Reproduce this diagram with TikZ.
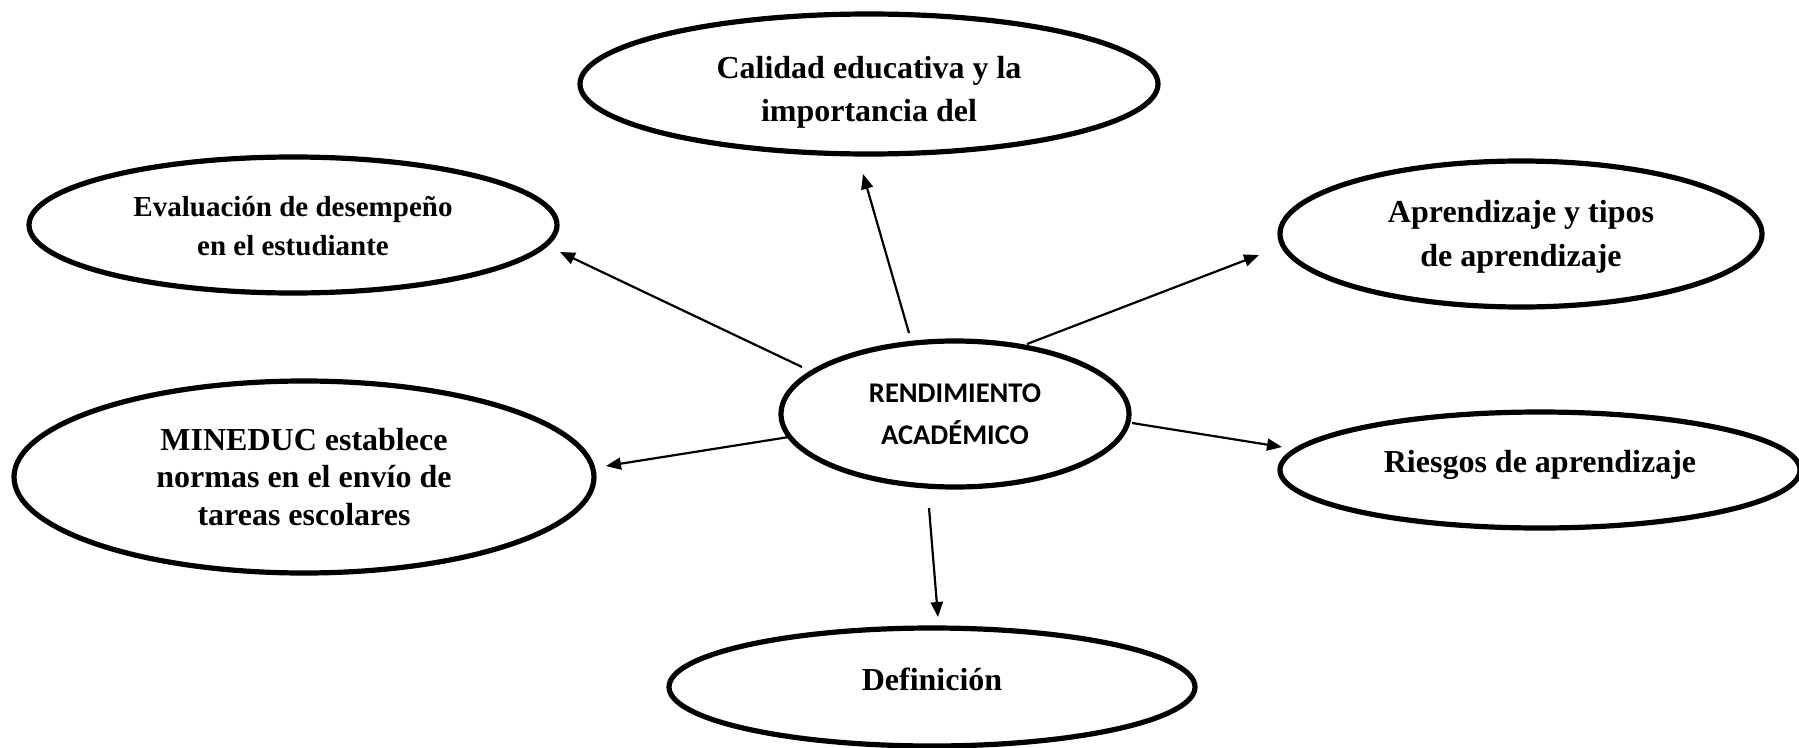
\documentclass[tikz,border=0pt]{standalone}
\usepackage{fontspec}
\setmainfont{Liberation Serif}
\newfontfamily\calib{Carlito}
\usetikzlibrary{shapes.geometric,arrows.meta}
\begin{document}
\begin{tikzpicture}[x=1pt,y=-1pt,
  oval/.style={ellipse, draw, line width=5.2pt, inner sep=0pt},
  lbl/.style={inner sep=0pt, align=center, font=\bfseries\fontsize{32}{42}\selectfont},
  conn/.style={line width=2.2pt, -{Triangle[length=15pt,width=12pt]}}]
\useasboundingbox (0,0) rectangle (1799,747);
\clip (0,0) rectangle (1799,747);
\fill[white] (0,0) rectangle (1799,747);

\node[oval, minimum width=578pt, minimum height=140pt] (cal) at (869,84) {};
\node[lbl, font=\bfseries\fontsize{32}{43}\selectfont] (calt) at ([yshift=-8pt]cal.center) {Calidad educativa y la\\importancia del};
\node[oval, minimum width=528pt, minimum height=136pt] (eva) at (293,225) {};
\node[lbl, font=\bfseries\fontsize{29}{38.5}\selectfont] (evat) at ([yshift=-1pt]eva.center) {Evaluación de desempeño\\en el estudiante};
\node[oval, minimum width=482pt, minimum height=146pt] (apr) at (1521,234) {};
\node[lbl, font=\bfseries\fontsize{32}{44}\selectfont] (aprt) at ([yshift=-3pt]apr.center) {Aprendizaje y tipos\\de aprendizaje};
\node[oval, minimum width=348pt, minimum height=146pt] (ren) at (955,414) {};
\node[lbl, font=\calib\bfseries\fontsize{28.5}{42}\selectfont] (rent) at (ren.center) {RENDIMIENTO\\ACADÉMICO};
\node[oval, minimum width=580pt, minimum height=192pt] (min) at (304,477) {};
\node[lbl, font=\bfseries\fontsize{32}{37.5}\selectfont] (mint) at (min.center) {MINEDUC establece\\normas en el envío de\\tareas escolares};
\node[oval, minimum width=520pt, minimum height=116pt] (rie) at (1540,470) {};
\node[lbl] (riet) at ([yshift=5pt]rie.center) {Riesgos de aprendizaje};
\node[oval, minimum width=526pt, minimum height=118pt] (def) at (932,687) {};
\node[lbl] (deft) at ([yshift=8pt]def.center) {Definición};

\coordinate (s1) at (909,333); \coordinate (e1) at (863,174);
\coordinate (s2) at (802,367); \coordinate (e2) at (560,252);
\coordinate (s3) at (1027,344); \coordinate (e3) at (1259,255);
\coordinate (s4) at (789,437); \coordinate (e4) at (606,466);
\coordinate (s5) at (1132,423); \coordinate (e5) at (1282,447);
\coordinate (s6) at (929,508); \coordinate (e6) at (938,617);

\draw[conn] (s1) -- (e1);
\draw[conn] (s2) -- (e2);
\draw[conn] (s3) -- (e3);
\draw[conn] (s4) -- (e4);
\draw[conn] (s5) -- (e5);
\draw[conn] (s6) -- (e6);
\end{tikzpicture}
\end{document}
